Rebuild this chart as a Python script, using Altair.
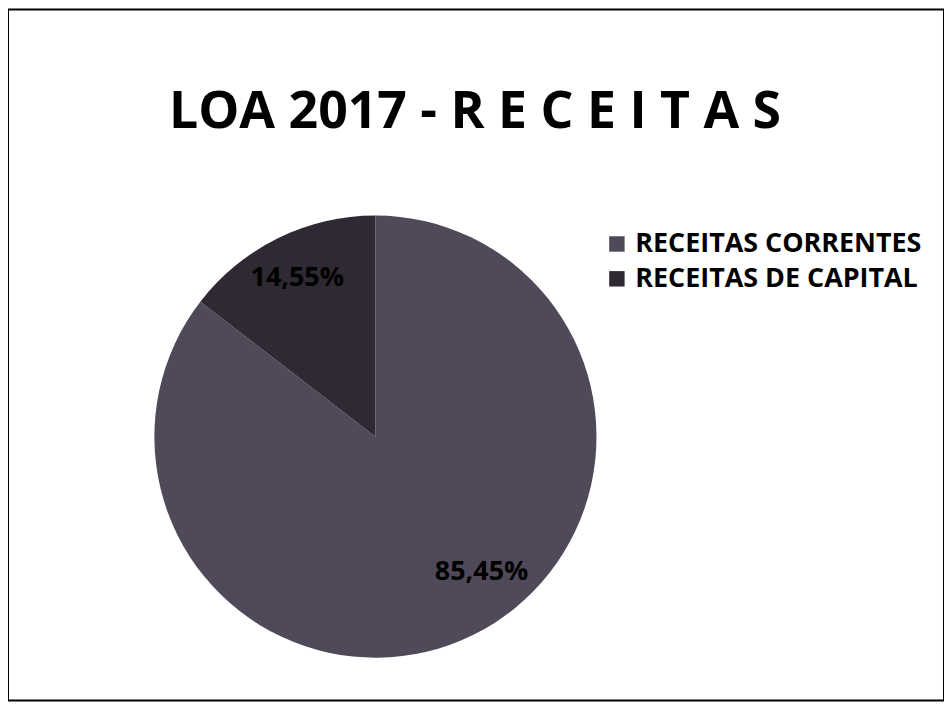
import math
import altair as alt
import pandas as pd

categorias = ["RECEITAS CORRENTES", "RECEITAS DE CAPITAL"]
valores = [85.45, 14.55]
rotulos = ["85,45%", "14,55%"]
ordem = [1, 2]
cores = ["#4f4959", "#2e2933"]
titulo = "LOA 2017 - R E C E I T A S"

df = pd.DataFrame({"categoria": categorias, "valor": valores, "rotulo": rotulos, "ordem": ordem})

FONT = "Open Sans"
CX, CY = 369, 429

arc = alt.Chart(df).mark_arc(outerRadius=222).encode(
    theta=alt.Theta("valor:Q", stack=True),
    order=alt.Order("ordem:Q"),
    x=alt.value(CX),
    y=alt.value(CY),
    color=alt.Color(
        "categoria:N",
        scale=alt.Scale(domain=categorias, range=cores),
        legend=alt.Legend(
            title=None,
            orient="none",
            legendX=598,
            legendY=222,
            padding=0,
            symbolType="square",
            symbolSize=240,
            symbolStrokeWidth=0,
            labelFont=FONT,
            labelFontSize=27,
            labelFontWeight="bold",
            labelColor="black",
            labelLimit=400,
            rowPadding=7,
            labelOffset=5,
        ),
    ),
)

text_base = (
    alt.Chart(df)
    .transform_window(acum="sum(valor)", sort=[alt.SortField("ordem")])
    .transform_calculate(meio="datum.acum - datum.valor / 2")
)
theta_txt = alt.Theta("meio:Q", stack=False, scale=alt.Scale(domain=[0, 100], range=[0, 2 * math.pi]))

text_cap = text_base.transform_filter(alt.datum.categoria == categorias[1]).mark_text(
    radius=178, font=FONT, fontSize=27, fontWeight="bold", color="black"
).encode(theta=theta_txt, text="rotulo:N", x=alt.value(CX), y=alt.value(CY))

text_cor = text_base.transform_filter(alt.datum.categoria == categorias[0]).mark_text(
    radius=178, font=FONT, fontSize=27, fontWeight="bold", color="black", dx=28, dy=-24
).encode(theta=theta_txt, text="rotulo:N", x=alt.value(CX), y=alt.value(CY))

title_df = pd.DataFrame({"t": [titulo]})
title = alt.Chart(title_df).mark_text(
    font=FONT, fontSize=52, fontWeight="bold", color="black", baseline="alphabetic", align="center"
).encode(text="t:N", x=alt.value(469), y=alt.value(119))

chart = alt.layer(arc, text_cap, text_cor, title).resolve_scale(theta="independent").properties(
    width=940, height=694, autosize=alt.AutoSizeParams(type="none"), padding=0
).configure(background="white").configure_view(stroke="black", strokeWidth=2)

chart.save("out.html", embed_options={"renderer": "svg", "actions": False})
